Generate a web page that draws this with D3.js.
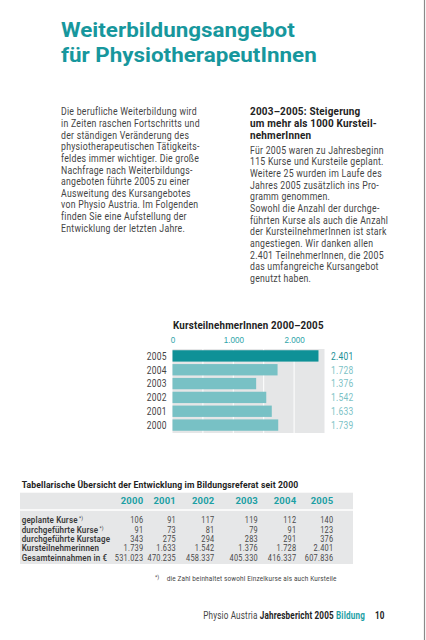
<!DOCTYPE html>
<html><head><meta charset="utf-8">
<script src="https://cdn.jsdelivr.net/npm/d3@7"></script>
<style>
html,body{margin:0;padding:0;background:#fff;}
svg{display:block;font-family:Roboto,"Liberation Sans",Arial,sans-serif;}
</style></head>
<body>
<svg id="c" width="426" height="640"></svg>
<script>
// ---------- data ----------
const titleLines = ["Weiterbildungsangebot", "für PhysiotherapeutInnen"];
const introLines = [
  "Die berufliche Weiterbildung wird",
  "in Zeiten raschen Fortschritts und",
  "der ständigen Veränderung des",
  "physiotherapeutischen Tätigkeits-",
  "feldes immer wichtiger. Die große",
  "Nachfrage nach Weiterbildungs-",
  "angeboten führte 2005 zu einer",
  "Ausweitung des Kursangebotes",
  "von Physio Austria. Im Folgenden",
  "finden Sie eine Aufstellung der",
  "Entwicklung der letzten Jahre."
];
const sideHeadLines = ["2003–2005: Steigerung", "um mehr als 1000 Kursteil-", "nehmerInnen"];
const sideBodyLines = [
  "Für 2005 waren zu Jahresbeginn",
  "115 Kurse und Kursteile geplant.",
  "Weitere 25 wurden im Laufe des",
  "Jahres 2005 zusätzlich ins Pro-",
  "gramm genommen.",
  "Sowohl die Anzahl der durchge-",
  "führten Kurse als auch die Anzahl",
  "der KursteilnehmerInnen ist stark",
  "angestiegen. Wir danken allen",
  "2.401 TeilnehmerInnen, die 2005",
  "das umfangreiche Kursangebot",
  "genutzt haben."
];
const chartTitle = "KursteilnehmerInnen 2000–2005";
const years = ["2000", "2001", "2002", "2003", "2004", "2005"];
const participants = [1739, 1633, 1542, 1376, 1728, 2401];
const axisTicks = [0, 1000, 2000];
const highlightYear = "2005";

const tableTitle = "Tabellarische Übersicht der Entwicklung im Bildungsreferat seit 2000";
const rowLabels = ["geplante Kurse", "durchgeführte Kurse", "durchgeführte Kurstage", "Kursteilnehmerinnen", "Gesamteinnahmen in €"];
const rowFootnoteMark = [true, true, false, false, false];
const plannedCourses = [106, 91, 117, 119, 112, 140];
const heldCourses = [91, 73, 81, 79, 91, 123];
const courseDays = [343, 275, 294, 283, 291, 376];
const participantsTable = [1739, 1633, 1542, 1376, 1728, 2401];
const revenue = [531023, 470235, 458337, 405330, 416337, 607836];
const footnote = "die Zahl beinhaltet sowohl Einzelkurse als auch Kursteile";
const footerParts = [
  {t: "Physio Austria ", w: 400, c: "#444"},
  {t: "Jahresbericht 2005 ", w: 700, c: "#222"},
  {t: "Bildung", w: 700, c: "#1c9ea4"}
];
const pageNumber = "10";

// ---------- setup ----------
const svg = d3.select("#c");
const TEAL = "#17979d";
const TEXT = "#444";
const LS = 0.3; // letter spacing for running text
const de = d3.formatLocale({decimal: ",", thousands: ".", grouping: [3], currency: ["", " €"]});
const fmt = de.format(",d");

svg.append("rect").attr("width", 426).attr("height", 640).attr("fill", "#fff");
svg.append("line").attr("x1", 424.5).attr("x2", 424.5).attr("y1", 0).attr("y2", 640)
  .attr("stroke", "#8a8a8a").attr("stroke-width", 1.2);

function measure(str, size, weight, ls) {
  const t = svg.append("text").attr("font-size", size).attr("font-weight", weight)
    .attr("letter-spacing", ls || 0).text(str);
  const w = t.node().getComputedTextLength();
  t.remove();
  return w;
}
function placeText(parent, str, x, y, size, weight, fill, k, anchor, ls) {
  return parent.append("text")
    .attr("transform", `translate(${x},${y}) scale(${k},1)`)
    .attr("font-size", size).attr("font-weight", weight).attr("fill", fill)
    .attr("letter-spacing", ls || 0)
    .attr("text-anchor", anchor || "start").text(str);
}

// ---------- title ----------
const kTitle = 234 / measure(titleLines[0], 20, 700);
titleLines.forEach((l, i) => placeText(svg, l, 61, 37 + i * 25, 20, 700, TEAL, kTitle));

// ---------- intro paragraph ----------
const kBody = 136 / measure(introLines[0], 10, 400, LS);
introLines.forEach((l, i) => placeText(svg, l, 61, 115.2 + i * 11.66, 10, 400, TEXT, kBody, "start", LS));

// ---------- side column ----------
const kHead = 127 / measure(sideHeadLines[1], 10, 700, 0.2);
sideHeadLines.forEach((l, i) => placeText(svg, l, 250, 115.2 + i * 11.9, 10, 700, "#222", kHead, "start", 0.2));
sideBodyLines.forEach((l, i) => placeText(svg, l, 250, 153.6 + i * 11.66, 10, 400, TEXT, kBody, "start", LS));

// ---------- bar chart ----------
const x = d3.scaleLinear().domain([0, 2500]).range([172.5, 324.5]);
const y = d3.scaleBand().domain(years.slice().reverse()).range([349, 432]).paddingInner(0.18).paddingOuter(0.09);
const chart = svg.append("g");
const kChartTitle = 151 / measure(chartTitle, 10.5, 700, 0.2);
placeText(chart, chartTitle, 173, 329, 10.5, 700, "#222", kChartTitle, "start", 0.2);

chart.append("rect").attr("x", x(0)).attr("y", 349).attr("width", x(2500) - x(0)).attr("height", 84)
  .attr("fill", "#e5e6e7");
chart.selectAll("line.grid").data(x.ticks(5).filter(d => d > 0 && d < 2500)).join("line")
  .attr("class", "grid")
  .attr("x1", d => x(d)).attr("x2", d => x(d)).attr("y1", 349).attr("y2", 433)
  .attr("stroke", "#fff").attr("stroke-width", 1);

const data = years.map((yr, i) => ({year: yr, v: participants[i]}));
chart.selectAll("rect.bar").data(data).join("rect").attr("class", "bar")
  .attr("x", x(0)).attr("y", d => y(d.year))
  .attr("width", d => x(d.v) - x(0)).attr("height", y.bandwidth())
  .attr("fill", d => d.year === highlightYear ? "#0f9197" : "#78c1c5");

const kLab = 20 / measure("2005", 10.5, 400, LS);
data.forEach(d => {
  placeText(chart, d.year, 166.7, y(d.year) + y.bandwidth() / 2 + 3.8, 10.5, 400, TEXT, kLab, "end", LS);
  placeText(chart, fmt(d.v), 331, y(d.year) + y.bandwidth() / 2 + 3.8, 10.5, 400,
    d.year === highlightYear ? "#1b8f95" : "#7cc2c6", kLab, "start", LS);
});

const axis = d3.axisTop(x).tickValues(axisTicks).tickFormat(fmt).tickSize(0).tickPadding(0);
const ax = chart.append("g").attr("transform", "translate(0,342.5)").call(axis);
ax.select(".domain").remove();
ax.selectAll("text").attr("fill", "#2ea4a9").attr("font-size", 9).attr("font-family", null)
  .attr("dy", 0).attr("transform", "scale(0.9,1)");

// ---------- table ----------
const tbl = svg.append("g");
const kTT = 277 / measure(tableTitle, 9.6, 700, 0.15);
placeText(tbl, tableTitle, 21.7, 487.5, 9.6, 700, "#222", kTT, "start", 0.15);

tbl.append("rect").attr("x", 20).attr("y", 492.7).attr("width", 333).attr("height", 71.3).attr("fill", "#e6e7e8");
tbl.append("line").attr("x1", 20).attr("x2", 353).attr("y1", 510).attr("y2", 510)
  .attr("stroke", "#fff").attr("stroke-width", 1.6);

const col = d3.scaleOrdinal().domain(years).range([143.3, 176, 214.5, 258, 296.3, 333.3]);
const rowKeys = ["planned", "held", "days", "part", "rev"];
const row = d3.scalePoint().domain(rowKeys).range([523.2, 560.8]);
const tableRows = [plannedCourses, heldCourses, courseDays, participantsTable, revenue];

const kYr = 22.6 / measure("2000", 9.6, 700, 0.2);
years.forEach(yr => placeText(tbl, yr, col(yr), 504.2, 9.6, 700, "#1c9fa4", kYr, "end", 0.2));

const FS = 8.8;
const kRow = 85.6 / measure("Gesamteinnahmen in €", FS, 600, 0.15);
const kNum = 28.5 / measure("531.023", FS, 400, LS);
rowLabels.forEach((lab, r) => {
  const t = placeText(tbl, lab, 21.7, row(rowKeys[r]), FS, 600, "#3a3a3a", kRow, "start", 0.15);
  if (rowFootnoteMark[r]) {
    t.append("tspan").attr("font-size", 5.5).attr("dx", 1.5).attr("dy", -3).attr("font-weight", 400).text("*)");
  }
  tableRows[r].forEach((v, c) => {
    placeText(tbl, fmt(v), col(years[c]), row(rowKeys[r]), FS, 400, "#4a4a4a", kNum, "end", LS);
  });
});

// footnote
placeText(svg, "*)", 155, 579, 5.5, 400, "#444", 1);
const kFn = 170 / measure(footnote, 8, 400, 0.2);
placeText(svg, footnote, 166.7, 581.2, 8, 400, "#444", kFn, "start", 0.2);

// ---------- footer ----------
const footer = svg.append("text").attr("x", 0).attr("y", 0).attr("font-size", 10).attr("letter-spacing", 0.2);
footerParts.forEach(p => footer.append("tspan").attr("font-weight", p.w).attr("fill", p.c).text(p.t));
const fw = footer.node().getComputedTextLength();
const kF = (365 - 203.3) / fw;
footer.attr("transform", `translate(203.3,618.5) scale(${kF},1)`);
placeText(svg, pageNumber, 375, 618.5, 10, 700, "#222", kF);
</script>
</body></html>
